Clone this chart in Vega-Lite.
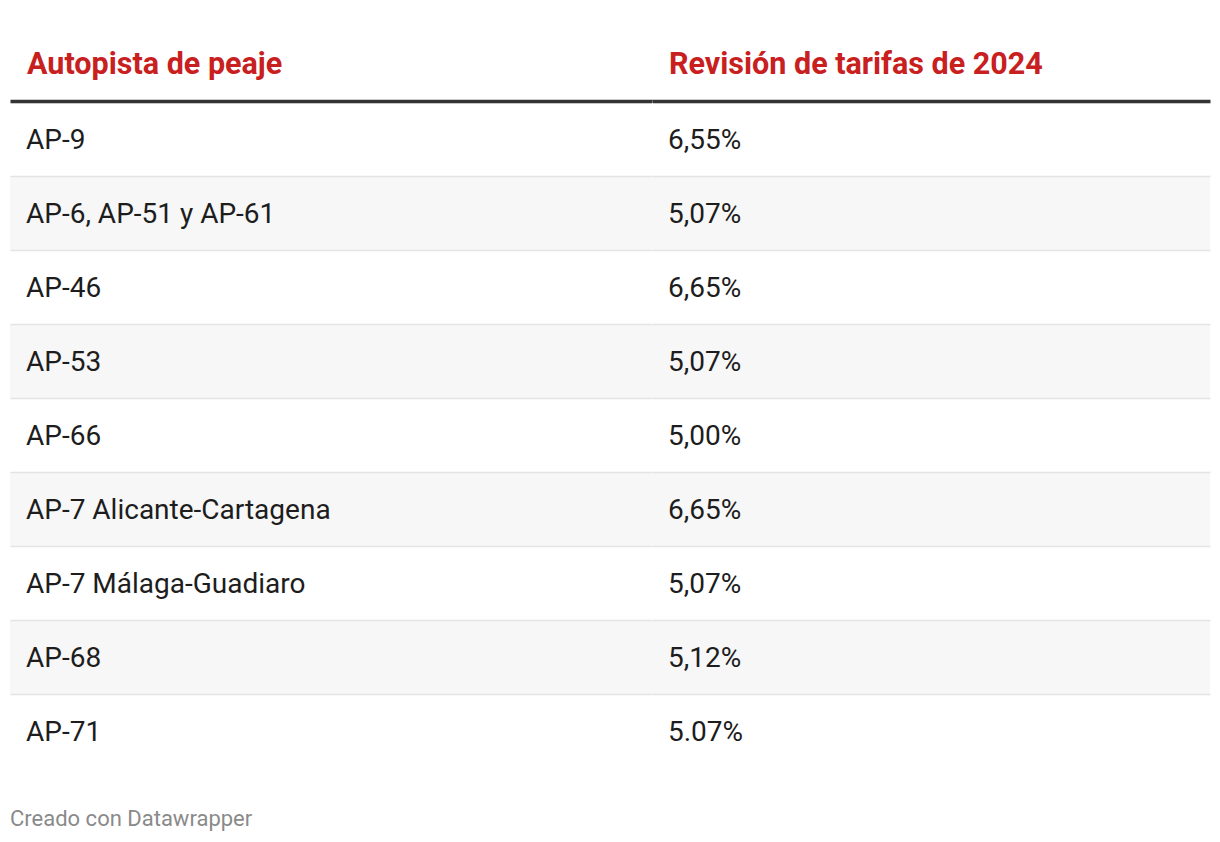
{
  "$schema": "https://vega.github.io/schema/vega-lite/v6.json",
  "background": "#ffffff",
  "padding": {"left": 10, "right": 10, "top": 41, "bottom": 20},
  "config": {"view": {"stroke": null}, "concat": {"spacing": 0}, "font": "Roboto"},
  "title": {"text": "Creado con Datawrapper", "orient": "bottom", "anchor": "start", "font": "Roboto", "fontSize": 22, "fontWeight": "normal", "color": "#8a8a8a", "baseline": "alphabetic", "offset": 58},
  "data": {"values": [
    {"Autopista de peaje": "AP-9", "Revisión de tarifas de 2024": "6,55%"},
    {"Autopista de peaje": "AP-6, AP-51 y AP-61", "Revisión de tarifas de 2024": "5,07%"},
    {"Autopista de peaje": "AP-46", "Revisión de tarifas de 2024": "6,65%"},
    {"Autopista de peaje": "AP-53", "Revisión de tarifas de 2024": "5,07%"},
    {"Autopista de peaje": "AP-66", "Revisión de tarifas de 2024": "5,00%"},
    {"Autopista de peaje": "AP-7 Alicante-Cartagena", "Revisión de tarifas de 2024": "6,65%"},
    {"Autopista de peaje": "AP-7 Málaga-Guadiaro", "Revisión de tarifas de 2024": "5,07%"},
    {"Autopista de peaje": "AP-68", "Revisión de tarifas de 2024": "5,12%"},
    {"Autopista de peaje": "AP-71", "Revisión de tarifas de 2024": "5.07%"}
  ]},
  "hconcat": [
    {
      "width": 642, "height": 666,
      "transform": [
        {"window": [{"op": "row_number", "as": "fila"}]},
        {"fold": ["Autopista de peaje"], "as": ["columna", "valor"]}
      ],
      "encoding": {
        "x": {"field": "columna", "type": "nominal", "scale": {"paddingInner": 0, "paddingOuter": 0},
          "axis": {"orient": "top", "labelAlign": "left", "labelOffset": -304, "labelPadding": 28, "labelBaseline": "alphabetic", "labelFontSize": 30.5, "labelFontWeight": "bold", "labelFont": "Roboto", "labelColor": "#c8201e", "labelAngle": 0, "labelLimit": 0, "labelBound": false, "labelOverlap": false, "ticks": false, "tickSize": 0, "domainColor": "#333333", "domainWidth": 3.5, "title": null, "offset": 1, "zindex": 2, "minExtent": 60, "maxExtent": 60, "grid": false}},
        "y": {"field": "Autopista de peaje", "type": "nominal", "sort": null, "scale": {"paddingInner": 0, "paddingOuter": 0},
          "axis": {"orient": "left", "bandPosition": 0, "grid": true, "gridColor": "#e4e4e4", "gridWidth": 1.5, "labels": false, "ticks": false, "domain": false, "title": null, "zindex": 1, "minExtent": 0, "maxExtent": 0}}
      },
      "layer": [
        {"mark": {"type": "rect"}, "encoding": {"color": {"condition": {"test": "datum.fila % 2 == 0", "value": "#f7f7f7"}, "value": "#ffffff"}}},
        {"mark": {"type": "text", "align": "left", "baseline": "alphabetic", "dx": 16, "dy": 10, "fontSize": 28, "font": "Roboto", "color": "#1d1d1d"},
          "encoding": {"text": {"field": "valor"}, "x": {"field": "columna", "type": "nominal", "bandPosition": 0}}}
      ]
    },
    {
      "width": 558, "height": 666,
      "transform": [
        {"window": [{"op": "row_number", "as": "fila"}]},
        {"fold": ["Revisión de tarifas de 2024"], "as": ["columna", "valor"]}
      ],
      "encoding": {
        "x": {"field": "columna", "type": "nominal", "scale": {"paddingInner": 0, "paddingOuter": 0},
          "axis": {"orient": "top", "labelAlign": "left", "labelOffset": -262, "labelPadding": 28, "labelBaseline": "alphabetic", "labelFontSize": 30.5, "labelFontWeight": "bold", "labelFont": "Roboto", "labelColor": "#c8201e", "labelAngle": 0, "labelLimit": 0, "labelBound": false, "labelOverlap": false, "ticks": false, "tickSize": 0, "domainColor": "#333333", "domainWidth": 3.5, "title": null, "offset": 1, "zindex": 2, "minExtent": 60, "maxExtent": 60, "grid": false}},
        "y": {"field": "Autopista de peaje", "type": "nominal", "sort": null, "scale": {"paddingInner": 0, "paddingOuter": 0},
          "axis": {"orient": "left", "bandPosition": 0, "grid": true, "gridColor": "#e4e4e4", "gridWidth": 1.5, "labels": false, "ticks": false, "domain": false, "title": null, "zindex": 1, "minExtent": 0, "maxExtent": 0}}
      },
      "layer": [
        {"mark": {"type": "rect"}, "encoding": {"color": {"condition": {"test": "datum.fila % 2 == 0", "value": "#f7f7f7"}, "value": "#ffffff"}}},
        {"mark": {"type": "text", "align": "left", "baseline": "alphabetic", "dx": 16, "dy": 10, "fontSize": 28, "font": "Roboto", "color": "#1d1d1d"},
          "encoding": {"text": {"field": "valor"}, "x": {"field": "columna", "type": "nominal", "bandPosition": 0}}}
      ]
    }
  ]
}
